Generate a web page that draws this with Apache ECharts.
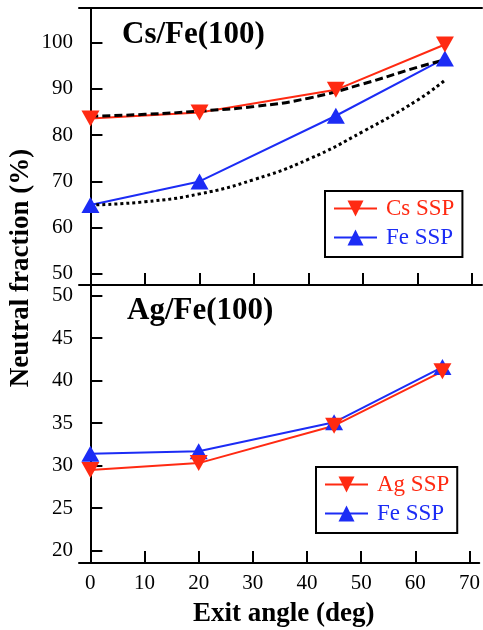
<!DOCTYPE html>
<html>
<head>
<meta charset="utf-8">
<script src="https://cdn.jsdelivr.net/npm/echarts@6/dist/echarts.min.js"></script>
<style>
html,body{margin:0;padding:0;background:#fff;}
#chart{width:483px;height:630px;}
</style>
</head>
<body>
<div id="chart"></div>
<script>
// ---- data ----
const xValues = [0, 20, 45, 65];
const csSSP = [83.6, 84.9, 89.8, 99.6];
const feSSPcs = [64.9, 70.0, 84.2, 96.6];
const fitX = [0, 10, 20, 30, 40, 50, 60, 65];
const csFit = [84.1, 84.5, 85.2, 86.2, 88.0, 91.1, 94.7, 96.3];
const feFit = [64.9, 65.6, 67.3, 70.4, 74.8, 80.8, 87.6, 91.9];
const agSSP = [29.5, 30.3, 34.7, 41.1];
const feSSPag = [31.4, 31.7, 35.1, 41.6];
const xTicks = [0, 10, 20, 30, 40, 50, 60, 70];
const yTicksTop = [50, 60, 70, 80, 90, 100];
const yTicksBottom = [20, 25, 30, 35, 40, 45, 50];
const titleTop = 'Cs/Fe(100)';
const titleBottom = 'Ag/Fe(100)';
const xTitle = 'Exit angle (deg)';
const yTitle = 'Neutral fraction (%)';

const RED = '#ff2a12';
const BLUE = '#1c2cf5';
const FONT = '"Liberation Serif", "Times New Roman", "DejaVu Serif", serif';

function pairs(xs, ys) { return xs.map((x, i) => [x, ys[i]]); }

const axisLine = { show: true, lineStyle: { color: '#000', width: 2 } };
const tickStyle = { color: '#000', width: 2 };
const labelStyle = { color: '#000', fontFamily: FONT, fontSize: 21, fontWeight: 'normal' };

function xAx(grid, opts) {
  return Object.assign({
    type: 'value', gridIndex: grid, min: -2.1, max: 71.8,
    axisLine: axisLine,
    axisTick: { show: true, inside: true, length: 12, customValues: xTicks, lineStyle: tickStyle },
    axisLabel: { show: false },
    splitLine: { show: false }
  }, opts);
}
function yAx(grid, min, max, ticks) {
  return {
    type: 'value', gridIndex: grid, min: min, max: max,
    axisLine: axisLine,
    axisTick: { show: true, inside: true, length: 12, customValues: ticks, lineStyle: tickStyle },
    axisLabel: Object.assign({ show: true, customValues: ticks, margin: 6 }, labelStyle),
    splitLine: { show: false }
  };
}
function ssp(name, xi, yi, data, color, down) {
  return {
    name: name, type: 'line', xAxisIndex: xi, yAxisIndex: yi,
    data: pairs(xValues, data),
    symbol: 'triangle', symbolSize: [18, 16], symbolRotate: down ? 180 : 0,
    lineStyle: { color: color, width: 2 },
    itemStyle: { color: color },
    animation: false
  };
}
function legend(left, top, names, colors) {
  return {
    orient: 'vertical', left: left, top: top,
    padding: [6, 8, 8, 8], itemGap: 6,
    itemWidth: 43, itemHeight: 20,
    borderColor: '#000', borderWidth: 2,
    textStyle: { fontFamily: FONT, fontSize: 23, fontWeight: 'normal', padding: [0, 0, 0, 4] },
    data: names.map((n, i) => ({ name: n, textStyle: { color: colors[i], fontFamily: FONT, fontSize: 23 } })),
    selectedMode: false
  };
}

const option = {
  backgroundColor: '#fff',
  animation: false,
  textStyle: { fontFamily: FONT },
  grid: [
    { left: 79, right: 1, top: 8, height: 277 },
    { left: 79, right: 1, top: 285, height: 278 }
  ],
  title: [
    { text: titleTop, left: 122, top: 19, padding: 0, textStyle: { fontFamily: FONT, fontSize: 31, fontWeight: 'bold', color: '#000' } },
    { text: titleBottom, left: 127, top: 295, padding: 0, textStyle: { fontFamily: FONT, fontSize: 31, fontWeight: 'bold', color: '#000' } }
  ],
  xAxis: [
    xAx(0, {}),
    xAx(0, { position: 'top', axisTick: { show: false } }),
    xAx(1, {
      axisLabel: Object.assign({ show: true, customValues: xTicks, margin: 10 }, labelStyle),
      name: xTitle, nameLocation: 'middle', nameGap: 38,
      nameTextStyle: { fontFamily: FONT, fontSize: 27, fontWeight: 'bold', color: '#000', padding: [0, 0, 0, 9] }
    })
  ],
  yAxis: [
    yAx(0, 47.6, 107.5, yTicksTop),
    yAx(1, 18.55, 51.25, yTicksBottom)
  ],
  legend: [
    legend(325, 191, ['Cs SSP', 'Fe SSP'], [RED, BLUE]),
    legend(316, 467, ['Ag SSP', 'Fe SSP'], [RED, BLUE])
  ],
  graphic: [
    { type: 'text', x: 21, y: 268, rotation: Math.PI / 2,
      style: { text: yTitle, fontFamily: FONT, fontSize: 27, fontWeight: 'bold', fill: '#000', align: 'center', verticalAlign: 'middle' } }
  ],
  series: [
    ssp('Fe SSP', 0, 0, feSSPcs, BLUE, false),
    ssp('Cs SSP', 0, 0, csSSP, RED, true),
    { name: 'Cs fit', type: 'line', xAxisIndex: 0, yAxisIndex: 0, data: pairs(fitX, csFit), smooth: true,
      symbol: 'none', lineStyle: { color: '#000', width: 3, type: [8, 4] }, z: 3 },
    { name: 'Fe fit', type: 'line', xAxisIndex: 0, yAxisIndex: 0, data: pairs(fitX, feFit), smooth: true,
      symbol: 'none', lineStyle: { color: '#000', width: 3, type: [3, 3] }, z: 3 },
    ssp('Fe SSP', 2, 1, feSSPag, BLUE, false),
    ssp('Ag SSP', 2, 1, agSSP, RED, true)
  ]
};

const chart = echarts.init(document.getElementById('chart'), null, { renderer: 'canvas' });
chart.setOption(option);
</script>
</body>
</html>
